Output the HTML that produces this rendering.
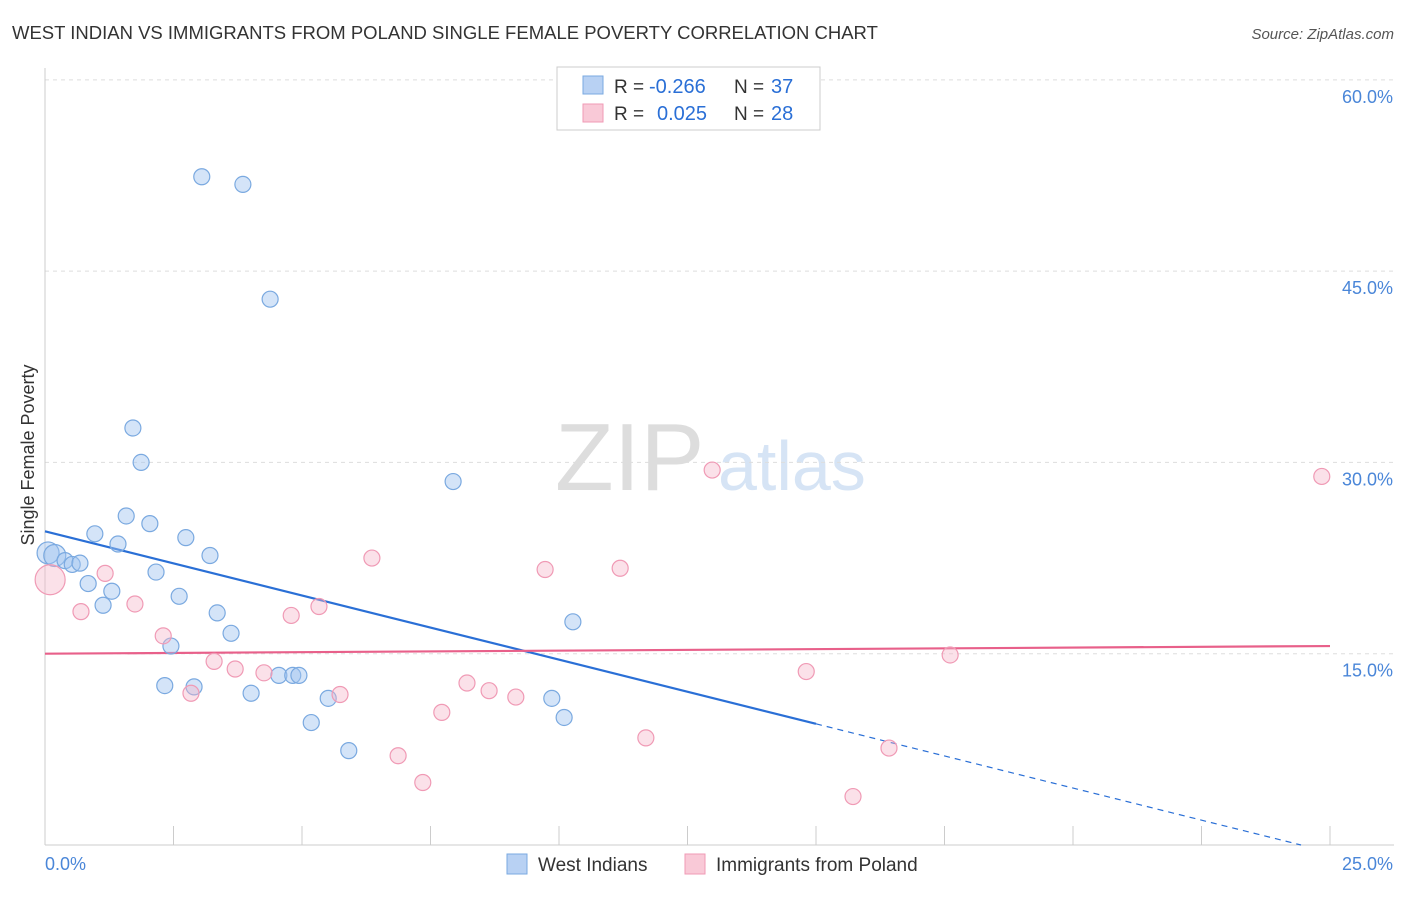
<!DOCTYPE html>
<html><head><meta charset="utf-8"><style>
body{margin:0;background:#fff;font-family:"Liberation Sans",sans-serif}
svg text{font-family:"Liberation Sans",sans-serif}
</style></head><body>
<svg id="chart" width="1406" height="892" viewBox="0 0 1406 892" xmlns="http://www.w3.org/2000/svg">
<text x="12" y="39" font-size="18.5" fill="#333">WEST INDIAN VS IMMIGRANTS FROM POLAND SINGLE FEMALE POVERTY CORRELATION CHART</text>
<text x="1394" y="39" font-size="15" fill="#555" font-style="italic" text-anchor="end">Source: ZipAtlas.com</text>
<g>
<text x="555" y="490" font-size="96" fill="#ddd" font-family="Liberation Serif">ZIP</text>
<text x="718" y="490" font-size="70" fill="#d6e4f5">atlas</text>
</g>
<g id="grid"></g>
<g id="axes"></g>
<g id="lines"></g>
<g id="pts"></g>
<text transform="translate(34,455) rotate(-90)" font-size="18" fill="#333" text-anchor="middle">Single Female Poverty</text>
<g>
<rect x="557" y="67" width="263" height="63" fill="#fff" stroke="#ccc"/>
<rect x="583" y="76" width="20" height="18" fill="#b8d1f3" stroke="#7aa9e0"/>
<rect x="583" y="104" width="20" height="18" fill="#f9c9d7" stroke="#f09ab5"/>
<text x="614" y="93" font-size="19" fill="#333">R =</text>
<text x="649" y="93" font-size="20" fill="#2a6fd6">-0.266</text>
<text x="734" y="93" font-size="19" fill="#333">N =</text>
<text x="771" y="93" font-size="20" fill="#2a6fd6">37</text>
<text x="614" y="120" font-size="19" fill="#333">R =</text>
<text x="657" y="120" font-size="20" fill="#2a6fd6">0.025</text>
<text x="734" y="120" font-size="19" fill="#333">N =</text>
<text x="771" y="120" font-size="20" fill="#2a6fd6">28</text>
</g>
<g>
<rect x="507" y="854" width="20" height="20" fill="#b8d1f3" stroke="#7aa9e0"/>
<text x="538" y="871" font-size="19" fill="#333">West Indians</text>
<rect x="685" y="854" width="20" height="20" fill="#f9c9d7" stroke="#f09ab5"/>
<text x="716" y="871" font-size="19" fill="#333">Immigrants from Poland</text>
</g>
</svg>
<script>
const yTicks=[15,30,45,60];
const yTickLabels=["15.0%","30.0%","45.0%","60.0%"];
const xLabels=["0.0%","25.0%"];
const blueX=[0.06,0.19,0.39,0.53,0.68,0.84,0.97,1.13,1.30,1.42,1.58,1.71,1.87,2.04,2.16,2.33,2.45,2.61,2.74,2.90,3.05,3.21,3.35,3.62,3.85,4.01,4.38,4.55,4.82,4.94,5.18,5.51,5.91,7.94,9.86,10.10,10.27];
const blueY=[22.9,22.7,22.3,22.0,22.1,20.5,24.4,18.8,19.9,23.6,25.8,32.7,30.0,25.2,21.4,12.5,15.6,19.5,24.1,12.4,52.4,22.7,18.2,16.6,51.8,11.9,42.8,13.3,13.3,13.3,9.6,11.5,7.4,28.5,11.5,10.0,17.5];
const pinkX=[0.1,0.70,1.17,1.75,2.30,2.84,3.29,3.70,4.26,4.79,5.33,5.74,6.36,6.87,7.35,7.72,8.21,8.64,9.16,9.73,11.19,11.69,12.98,14.81,15.72,16.42,17.61,24.84];
const pinkY=[20.8,18.3,21.3,18.9,16.4,11.9,14.4,13.8,13.5,18.0,18.7,11.8,22.5,7.0,4.9,10.4,12.7,12.1,11.6,21.6,21.7,8.4,29.4,13.6,3.8,7.6,14.9,28.9];
const blueTrend=[24.6,-1.0067];
const pinkTrend=[15.0,0.024];
const NS="http://www.w3.org/2000/svg";
const sx=v=>45+v*51.4, sy=v=>845-v*12.753;
function mk(tag,attrs,parent){const e=document.createElementNS(NS,tag);for(const k in attrs)e.setAttribute(k,attrs[k]);parent.appendChild(e);return e;}
const grid=document.getElementById('grid'),axes=document.getElementById('axes'),lines=document.getElementById('lines'),pts=document.getElementById('pts');
yTicks.forEach((t,i)=>{
 const l=mk('line',{x1:45,x2:1394,y1:sy(t),y2:sy(t),stroke:'#ddd','stroke-dasharray':'4,4'},grid);
 
 
 const tx=mk('text',{x:1393,y:sy(t)+23,'font-size':18,fill:'#4a86d8','text-anchor':'end'},axes);
 tx.textContent=yTickLabels[i];
 
 
});
mk('line',{x1:45,x2:45,y1:68,y2:845,stroke:'#ccc'},axes);
mk('line',{x1:45,x2:1394,y1:845,y2:845,stroke:'#ccc'},axes);
for(let i=0;i<=10;i++){const t=mk('line',{x1:sx(i*2.5),x2:sx(i*2.5),y1:826,y2:845,stroke:'#ccc'},axes);
 
 }
const xl0=mk('text',{x:45,y:870,'font-size':18,fill:'#4a86d8'},axes);xl0.textContent=xLabels[0];


const xl1=mk('text',{x:1393,y:870,'font-size':18,fill:'#4a86d8','text-anchor':'end'},axes);xl1.textContent=xLabels[1];


function pt(x,y,r,fill,stroke,name){const c=mk('circle',{cx:sx(x),cy:sy(y),r:r,fill:fill,stroke:stroke,'stroke-width':1.2},pts);
 
 }
blueX.forEach((x,i)=>pt(x,blueY[i],i<2?11:8,'rgba(160,195,240,0.45)','#7aa9e0','west-indian-point'));
pinkX.forEach((x,i)=>pt(x,pinkY[i],i==0?15:8,'rgba(245,180,200,0.4)','#f09ab5','poland-point'));
const bEnd=15, bZero=-blueTrend[0]/blueTrend[1];
const bl=mk('line',{x1:sx(0),y1:sy(blueTrend[0]),x2:sx(bEnd),y2:sy(blueTrend[0]+blueTrend[1]*bEnd),stroke:'#2a6fd6','stroke-width':2.2},lines);


const bd=mk('line',{x1:sx(bEnd),y1:sy(blueTrend[0]+blueTrend[1]*bEnd),x2:sx(bZero),y2:sy(0),stroke:'#2a6fd6','stroke-width':1.2,'stroke-dasharray':'6,5'},lines);


const pl=mk('line',{x1:sx(0),y1:sy(pinkTrend[0]),x2:sx(25),y2:sy(pinkTrend[0]+pinkTrend[1]*25),stroke:'#e8608a','stroke-width':2.2},lines);


</script>
</body></html>
